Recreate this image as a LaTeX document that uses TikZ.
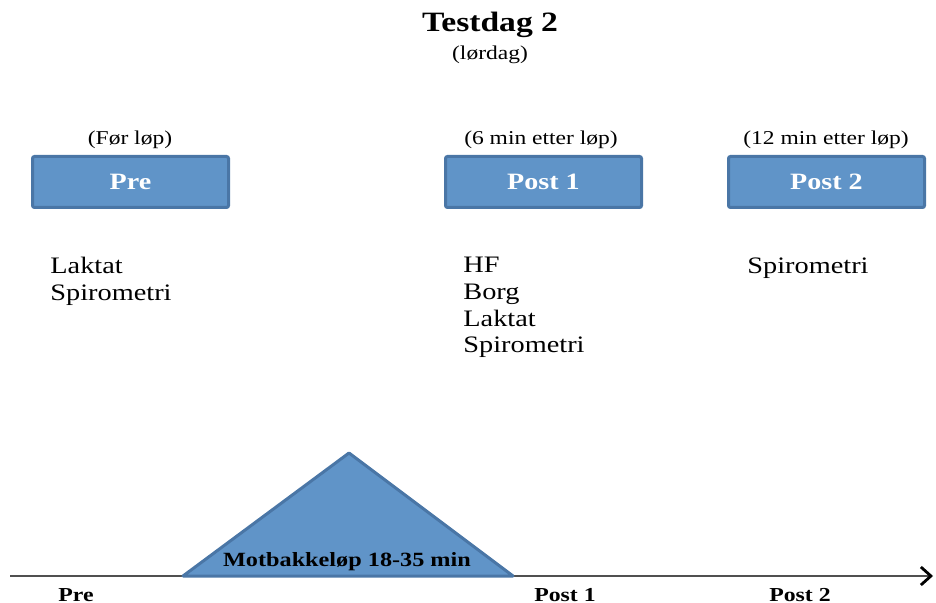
\documentclass[tikz,border=0pt]{standalone}
\usepackage{fontspec}
\setmainfont[FakeStretch=1.2]{Liberation Serif}
\usetikzlibrary{arrows.meta}
\definecolor{boxfill}{HTML}{6094C8}
\definecolor{boxline}{HTML}{4A76A6}
\definecolor{axisgray}{HTML}{505050}
\tikzset{
  stage/.style={rectangle, draw=boxline, fill=boxfill, line width=1.5pt, rounded corners=1pt,
    minimum width=98pt, minimum height=25.5pt, inner sep=0pt, text=white,
    font=\fontsize{11.7}{13}\selectfont\bfseries},
  stagenote/.style={font=\fontsize{9.8}{11}\selectfont, anchor=base, inner sep=0pt},
  tests/.style={font=\fontsize{11.8}{13.3}\selectfont, align=left, anchor=north west, inner sep=0pt},
  axislabel/.style={font=\fontsize{9.9}{11}\selectfont\bfseries, anchor=base, inner sep=0pt},
}

\begin{document}
\begin{tikzpicture}[x=0.5pt,y=-0.5pt]
  \useasboundingbox (0,0) rectangle (936,603);

  % title
  \node[font=\fontsize{14}{15}\selectfont\bfseries, anchor=base, inner sep=0pt] (title) at (490,32) {Testdag 2};
  \node[stagenote] (day) at (490,60) {(lørdag)};

  % stages
  \node[stage] (pre) at (130.5,182) {Pre};
  \node[stage] (post1) at (543.5,182) {Post 1};
  \node[stage] (post2) at (826.5,182) {Post 2};

  \node[stagenote] (preNote) at (130,145) {(Før løp)};
  \node[stagenote] (post1Note) at (541,145) {(6 min etter løp)};
  \node[stagenote] (post2Note) at (826,145) {(12 min etter løp)};

  % tests
  \node[tests] (preTests) at (50,257) {Laktat\\Spirometri};
  \node[tests] (post1Tests) at (463,257) {HF\\Borg\\Laktat\\Spirometri};
  \node[tests] (post2Tests) at (747,257) {Spirometri};

  % time axis
  \coordinate (axisStart) at (10,576);
  \coordinate (axisEnd) at (933,576);
  \draw[axisgray, line width=1.3pt,
    -{Straight Barb[length=5pt, width=9pt, line width=1.4pt, color=black]}] (axisStart) -- (axisEnd);

  % run
  \coordinate (runLeft) at (183,576);
  \coordinate (runTop) at (349,453);
  \coordinate (runRight) at (513,576);
  \draw[fill=boxfill, draw=boxline, line width=1.5pt, line join=round] (runLeft) -- (runTop) -- (runRight) -- cycle;
  \node[axislabel, font=\fontsize{10.1}{11}\selectfont\bfseries] (run) at (347,566) {Motbakkeløp 18-35 min};

  \node[axislabel] (preTick) at (76,601) {Pre};
  \node[axislabel] (post1Tick) at (565,601) {Post 1};
  \node[axislabel] (post2Tick) at (800,601) {Post 2};
\end{tikzpicture}
\end{document}
